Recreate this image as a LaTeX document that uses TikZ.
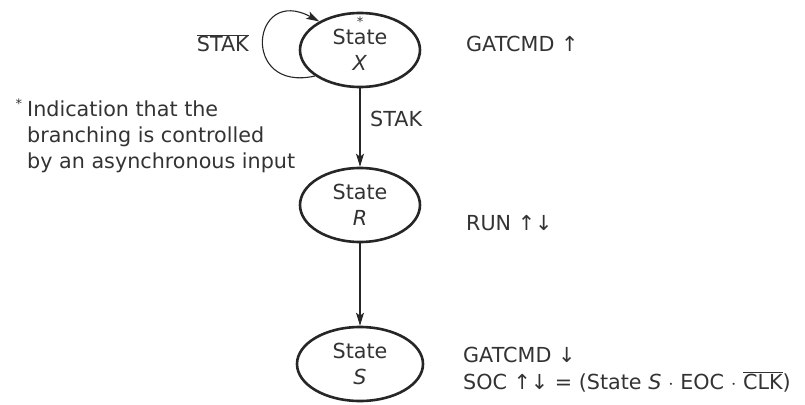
\documentclass[tikz,border=0pt]{standalone}
\usepackage{fontspec}
\setmainfont{DejaVu Sans}
\usetikzlibrary{shapes.geometric,arrows.meta}

\begin{document}
\begin{tikzpicture}[x=1pt,y=-1pt,
  every node/.style={font=\fontsize{20.7}{26}\selectfont, text=black!80, inner sep=0pt},
  statebox/.style={ellipse, draw=black!85, line width=2.6pt, minimum width=120pt,
    minimum height=74pt, align=center},
  arr/.style={draw=black!85, line width=1.1pt,
    -{Stealth[length=13pt,width=8pt,inset=3pt]}},
  note/.style={anchor=west, align=left}
]
\useasboundingbox (0,0) rectangle (805,404);

% states
\node[statebox] (X) at (360,50)  {State\\\textit{X}};
\node[statebox] (R) at (360,205) {State\\\textit{R}};
\node[statebox, minimum width=126pt] (S) at (360,364) {State\\\textit{S}};
\node[font=\fontsize{13}{13}\selectfont] (star) at (360,22) {*};

% transitions
\draw[arr] (X.210) .. controls +(-75,17) and +(-68,-37) .. (X.145);
\draw[arr] (X) -- (R);
\draw[arr] (R) -- (S);

% transition conditions
\node[anchor=east] (nstak) at (249,43) {$\overline{\mbox{STAK}}$};
\node[anchor=west] (stak) at (370,119) {STAK};

% outputs
\node[note] (outx) at (466,44)  {GATCMD ↑};
\node[note] (outr) at (466,223) {RUN ↑↓};
\node[note] (outs1) at (463,355) {GATCMD ↓};
\node[note] (outs2) at (463,382) {SOC ↑↓ = (State \textit{S} $\cdot$ EOC $\cdot$ $\overline{\mbox{CLK}}$)};

% footnote
\node[font=\fontsize{13}{13}\selectfont] (fstar) at (19,104) {*};
\node[note] (foot) at (27,137) {Indication that the\\branching is controlled\\by an asynchronous input};
\end{tikzpicture}
\end{document}
